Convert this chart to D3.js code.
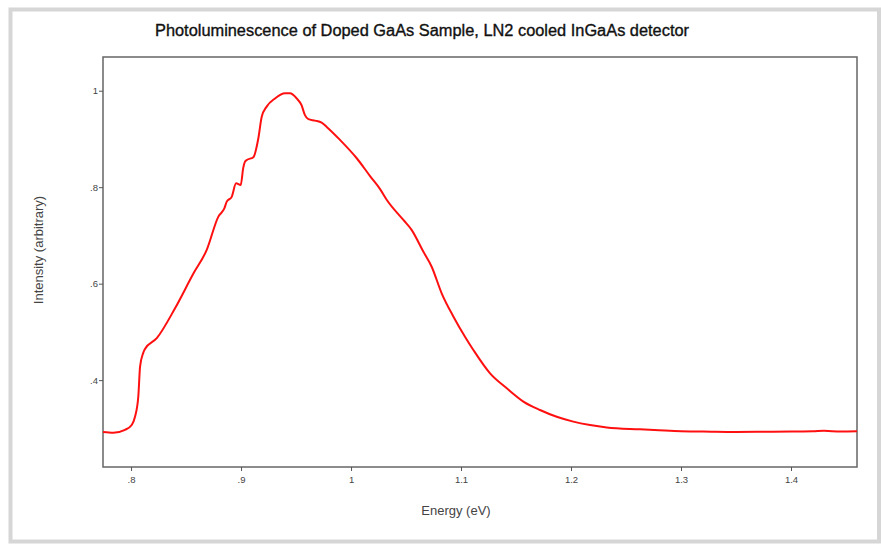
<!DOCTYPE html>
<html><head><meta charset="utf-8">
<script src="https://cdn.jsdelivr.net/npm/d3@7"></script>
<style>body{margin:0;background:#fff}svg{display:block}text{font-family:"Liberation Sans",Arial,sans-serif}</style>
</head><body><svg id="c" width="881" height="544"></svg>
<script>
const titleText = "Photoluminescence of Doped GaAs Sample, LN2 cooled InGaAs detector";
const xLabel = "Energy (eV)";
const yLabel = "Intensity (arbitrary)";
const xTicks = [0.8, 0.9, 1.0, 1.1, 1.2, 1.3, 1.4];
const xTickLabels = [".8", ".9", "1", "1.1", "1.2", "1.3", "1.4"];
const yTicks = [0.4, 0.6, 0.8, 1.0];
const yTickLabels = [".4", ".6", ".8", "1"];
const energy = [0.7745,0.7839,0.7945,0.8006,0.8036,0.8066,0.8082,0.811,0.8125,0.8234,0.840,0.8567,0.8688,0.8794,0.8848,0.8870,0.8915,0.8955,0.8997,0.9020,0.9036,0.9052,0.9112,0.9157,0.9188,0.9233,0.9309,0.9400,0.9445,0.9506,0.9550,0.9580,0.9612,0.9673,0.9733,0.9779,0.9900,1.0052,1.0173,1.0264,1.0324,1.0476,1.0552,1.0658,1.0733,1.0824,1.0930,1.1036,1.1112,1.1264,1.1416,1.1567,1.1718,1.1870,1.2021,1.2173,1.2325,1.2627,1.2800,1.3000,1.3200,1.3500,1.3800,1.4000,1.4200,1.4300,1.4450,1.4600];
const intensity = [0.2926,0.2910,0.2970,0.3070,0.3240,0.3660,0.4280,0.4560,0.4640,0.4870,0.5490,0.6210,0.6700,0.7390,0.7560,0.7700,0.7800,0.8080,0.8046,0.8400,0.8530,0.8564,0.8620,0.9010,0.9460,0.9670,0.9840,0.9946,0.9946,0.9840,0.9700,0.9500,0.9410,0.9380,0.9340,0.9250,0.8980,0.8600,0.8230,0.7960,0.7740,0.7320,0.7110,0.6660,0.6350,0.5800,0.5320,0.4900,0.4626,0.4140,0.3830,0.3555,0.3380,0.3240,0.3140,0.3070,0.3020,0.2980,0.2960,0.2940,0.2935,0.2925,0.2930,0.2935,0.2940,0.2950,0.2935,0.2940];

const svg = d3.select("#c");
svg.append("rect").attr("x",10.5).attr("y",9.5).attr("width",868.5).attr("height",532)
  .attr("fill","none").attr("stroke","#d6d6d6").attr("stroke-width",4);

const L=103, R=857, T=57, B=467;
const x = d3.scaleLinear().domain([0.7745,1.46]).range([L,R]);
const y = d3.scaleLinear().domain([0.2199,1.0699]).range([B,T]);

svg.append("rect").attr("x",L).attr("y",T).attr("width",R-L).attr("height",B-T)
  .attr("fill","none").attr("stroke","#666").attr("stroke-width",1.5);

const xAxis = d3.axisBottom(x).tickValues(xTicks).tickSize(4).tickFormat((d,i)=>xTickLabels[i]);
const gx = svg.append("g").attr("transform",`translate(0,${B})`).call(xAxis);
gx.select(".domain").remove();
gx.selectAll("line").attr("stroke","#555");
gx.selectAll("text").attr("fill","#444").attr("font-size",9.5).attr("dy","0.9em");

const yAxis = d3.axisLeft(y).tickValues(yTicks).tickSize(4).tickFormat((d,i)=>yTickLabels[i]);
const gy = svg.append("g").attr("transform",`translate(${L},0)`).call(yAxis);
gy.select(".domain").remove();
gy.selectAll("line").attr("stroke","#555");
gy.selectAll("text").attr("fill","#444").attr("font-size",9.5).attr("x",-5);

const data = energy.map((e,i)=>[e,intensity[i]]);
svg.append("path").datum(data)
  .attr("fill","none").attr("stroke","#ff1010").attr("stroke-width",2)
  .attr("stroke-linejoin","round")
  .attr("d", d3.line().curve(d3.curveMonotoneX).x(d=>x(d[0])).y(d=>y(d[1])));

svg.append("text").attr("x",422).attr("y",36).attr("text-anchor","middle")
  .attr("font-size",16).attr("fill","#111").attr("stroke","#111").attr("stroke-width",0.35)
  .attr("textLength",534).attr("lengthAdjust","spacingAndGlyphs").text(titleText);
svg.append("text").attr("x",456).attr("y",515).attr("text-anchor","middle")
  .attr("font-size",13).attr("fill","#444").text(xLabel);
svg.append("text").attr("transform","translate(43,250) rotate(-90)").attr("text-anchor","middle")
  .attr("font-size",13).attr("fill","#444").text(yLabel);
</script></body></html>
